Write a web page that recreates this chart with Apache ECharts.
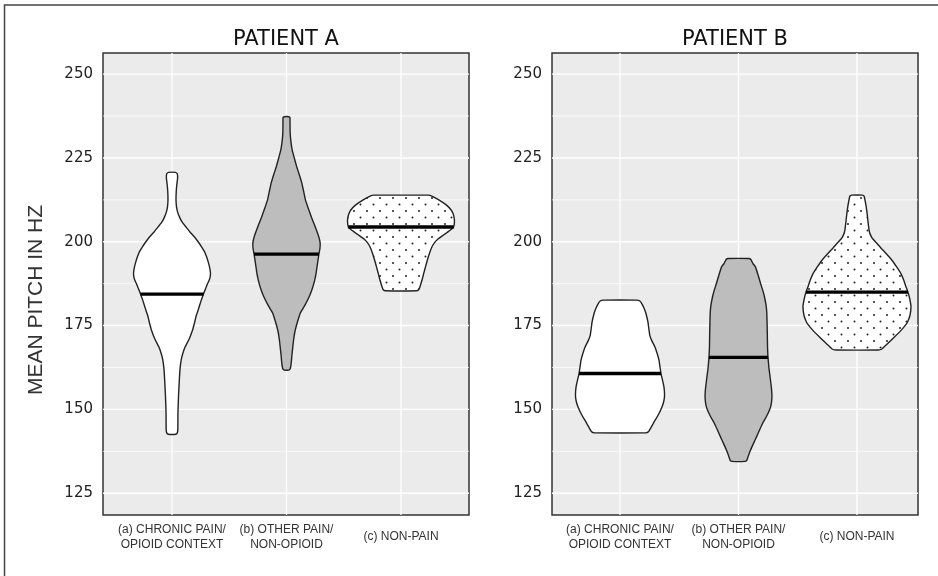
<!DOCTYPE html>
<html><head><meta charset="utf-8">
<script src="https://cdn.jsdelivr.net/npm/echarts@6/dist/echarts.min.js"></script>
<style>html,body{margin:0;padding:0;background:#fff}#chart{width:938px;height:576px}</style>
</head><body><div id="chart"></div>
<script>
// ---- data ----
const categories = ['(a) CHRONIC PAIN/\nOPIOID CONTEXT', '(b) OTHER PAIN/\nNON-OPIOID', '(c) NON-PAIN'];
const panelTitles = ['PATIENT A', 'PATIENT B'];
const yAxisTitle = 'MEAN PITCH IN HZ';
const yTicks = [125, 150, 175, 200, 225, 250];
const yMinor = [137.5, 162.5, 187.5, 212.5, 237.5];
const medianA = [184.4, 196.3, 204.4];
const medianB = [160.7, 165.5, 185.0];
// violin profiles: [pitch, half-width in category units], top to bottom
const violinA_a = [[220.7,0.030],[220.3,0.046],[219,0.049],[217,0.042],[215,0.037],[212.5,0.035],[210.5,0.039],[209,0.048],[207.5,0.064],[206,0.086],[204.5,0.120],[203,0.155],[201.5,0.195],[200,0.228],[198.5,0.258],[197,0.285],[195.5,0.302],[194,0.316],[192.4,0.328],[190.6,0.336],[189,0.330],[187.6,0.312],[186,0.293],[184.4,0.275],[182,0.250],[180,0.232],[178,0.212],[176,0.198],[173.6,0.179],[171,0.150],[168.6,0.114],[166.5,0.093],[164.7,0.080],[162,0.070],[158.7,0.064],[154,0.057],[149,0.052],[144,0.051],[143,0.046],[142.6,0.032]];
const violinA_b = [[237.3,0.020],[237,0.030],[235,0.031],[232.4,0.032],[230,0.038],[227.3,0.050],[225,0.068],[222.3,0.090],[220,0.112],[217.5,0.134],[215,0.150],[212.4,0.166],[210,0.190],[207.3,0.218],[205,0.245],[202.6,0.271],[201,0.286],[199.6,0.294],[198,0.292],[196.3,0.283],[194,0.273],[192.4,0.266],[190.5,0.258],[188.5,0.246],[186,0.225],[183.5,0.197],[181,0.160],[178.7,0.120],[176,0.095],[173.6,0.076],[171,0.063],[168.6,0.055],[166,0.047],[163.8,0.041],[162.3,0.034],[161.7,0.020]];
const violinA_c = [[213.9,0.240],[213.7,0.265],[212.5,0.330],[211,0.395],[209.4,0.440],[208.3,0.456],[207,0.465],[205.9,0.467],[204.4,0.460],[203.5,0.432],[202.7,0.400],[202,0.371],[200.8,0.323],[199.6,0.290],[198.5,0.271],[196.6,0.249],[194.5,0.230],[192.5,0.214],[190.5,0.198],[188.5,0.183],[186.5,0.165],[185.7,0.155],[185.4,0.135]];
const violinB_a = [[182.6,0.140],[182.4,0.165],[181.5,0.185],[180,0.205],[178.6,0.219],[176,0.236],[173.6,0.245],[172,0.252],[170.5,0.268],[168.6,0.295],[166.5,0.315],[164.7,0.329],[162.5,0.338],[160.7,0.346],[158.5,0.360],[156.7,0.371],[154.2,0.376],[152.5,0.370],[150.7,0.354],[148.7,0.328],[146.7,0.295],[144.5,0.260],[143.3,0.240],[143,0.215]];
const violinB_b = [[195.0,0.085],[194.8,0.103],[193.5,0.122],[192.5,0.143],[190,0.166],[187.6,0.186],[185.5,0.205],[183.6,0.219],[181,0.233],[178.6,0.239],[173,0.243],[168.6,0.245],[165.5,0.249],[162,0.258],[158.7,0.270],[156,0.279],[153.7,0.282],[151.5,0.276],[149.8,0.262],[147.8,0.235],[145.8,0.203],[143.8,0.177],[141.8,0.152],[139.8,0.126],[137.8,0.101],[136,0.082],[134.8,0.070],[134.5,0.055]];
const violinB_c = [[213.9,0.045],[213.6,0.060],[212,0.070],[210.4,0.078],[208,0.087],[206,0.093],[203.5,0.102],[202.2,0.112],[201,0.130],[199.5,0.169],[198,0.205],[197,0.232],[194.5,0.295],[192.5,0.335],[190.5,0.371],[188.5,0.395],[186.5,0.414],[185,0.430],[183,0.445],[180.6,0.456],[178,0.447],[176.5,0.432],[175.6,0.419],[173.5,0.370],[171.6,0.316],[169.5,0.255],[168,0.210],[167.7,0.180]];

// ---- pattern for non-pain ----
function dotPattern() {
  const c = document.createElement('canvas');
  c.width = 13; c.height = 13;
  const g = c.getContext('2d');
  g.fillStyle = '#ffffff'; g.fillRect(0, 0, 13, 13);
  g.fillStyle = '#222222';
  g.beginPath(); g.arc(3, 3, 1.0, 0, Math.PI * 2); g.fill();
  g.beginPath(); g.arc(9.5, 9.5, 1.0, 0, Math.PI * 2); g.fill();
  return { image: c, repeat: 'repeat' };
}
const fills = ['#ffffff', '#bdbdbd', dotPattern()];

function interp(prof, v) {
  for (let k = 0; k < prof.length - 1; k++) {
    const a = prof[k], b = prof[k + 1];
    if (v <= a[0] && v >= b[0]) {
      const t = (a[0] - v) / (a[0] - b[0]);
      return a[1] + t * (b[1] - a[1]);
    }
  }
  return prof[0][1];
}

function violinSeries(g, profiles, medians) {
  return {
    type: 'custom', xAxisIndex: g, yAxisIndex: g, z: 5, silent: true,
    data: medians.map((m, i) => [i, m]),
    encode: { x: 0, y: 1 },
    renderItem: function (params, api) {
      const i = params.dataIndex;
      const cx = api.value(0);
      const prof = profiles[i];
      const right = prof.map(p => api.coord([cx + p[1], p[0]]));
      const left = prof.slice().reverse().map(p => api.coord([cx - p[1], p[0]]));
      const m = api.value(1);
      const hw = interp(prof, m);
      const p1 = api.coord([cx - hw, m]), p2 = api.coord([cx + hw, m]);
      return {
        type: 'group', children: [
          { type: 'polygon', shape: { points: right.concat(left), smooth: 0.12 },
            style: { fill: fills[i], stroke: '#222', lineWidth: 1.4 } },
          { type: 'line', shape: { x1: p1[0], y1: p1[1], x2: p2[0], y2: p2[1] },
            style: { stroke: '#000', lineWidth: 3.3 } }
        ]
      };
    }
  };
}

function hGridSeries(g, vals, w) {
  return {
    type: 'custom', xAxisIndex: g, yAxisIndex: g, z: 1, silent: true,
    data: vals.map(v => [0, v]), encode: { x: 0, y: 1 },
    renderItem: function (params, api) {
      const cs = params.coordSys;
      const y = api.coord([0, api.value(1)])[1];
      return { type: 'line', shape: { x1: cs.x, y1: y, x2: cs.x + cs.width, y2: y },
        style: { stroke: '#ffffff', lineWidth: w } };
    }
  };
}
function vGridSeries(g) {
  return {
    type: 'custom', xAxisIndex: g, yAxisIndex: g, z: 1, silent: true,
    data: categories.map((c, i) => [i, 200]), encode: { x: 0, y: 1 },
    renderItem: function (params, api) {
      const cs = params.coordSys;
      const x = api.coord([api.value(0), 200])[0];
      return { type: 'line', shape: { x1: x, y1: cs.y, x2: x, y2: cs.y + cs.height },
        style: { stroke: '#ffffff', lineWidth: 1.3 } };
    }
  };
}

const gridBase = { top: 53, height: 462, width: 366, show: true, backgroundColor: '#ebebeb', borderColor: '#333', borderWidth: 1.5 };
function yAx(g) {
  return {
    type: 'value', gridIndex: g, min: 118.5, max: 256.3,
    splitLine: { show: false }, axisLine: { show: false }, axisTick: { show: false },
    axisLabel: { customValues: yTicks, margin: 10, fontFamily: 'DejaVu Sans', fontSize: 15, color: '#222' }
  };
}
function xAx(g, mn, mx) {
  return {
    type: 'value', gridIndex: g, min: mn, max: mx,
    splitLine: { show: false }, axisLine: { show: false }, axisTick: { show: false },
    axisLabel: { customValues: [0, 1, 2], formatter: v => categories[Math.round(v)],
      margin: 22, verticalAlign: 'middle', fontFamily: 'Liberation Sans', fontSize: 12, lineHeight: 15, color: '#333' }
  };
}

const chart = echarts.init(document.getElementById('chart'), null, { renderer: 'canvas' });
chart.setOption({
  animation: false,
  backgroundColor: '#ffffff',
  grid: [Object.assign({ left: 103 }, gridBase), Object.assign({ left: 552 }, gridBase)],
  xAxis: [xAx(0, -0.6026, 2.594), xAx(1, -0.574, 2.515)],
  yAxis: [yAx(0), yAx(1)],
  graphic: [
    { type: 'rect', shape: { x: 4.5, y: 5, width: 960, height: 600 }, style: { fill: 'none', stroke: '#444', lineWidth: 1.5 }, z: 100 },
    { type: 'text', x: 286, y: 39.5, style: { text: panelTitles[0], align: 'center', verticalAlign: 'middle', font: '21px "DejaVu Sans"', fill: '#111' } },
    { type: 'text', x: 735, y: 39.5, style: { text: panelTitles[1], align: 'center', verticalAlign: 'middle', font: '21px "DejaVu Sans"', fill: '#111' } },
    { type: 'text', x: 36, y: 300, rotation: Math.PI / 2, style: { text: yAxisTitle, align: 'center', verticalAlign: 'middle', font: '21px "Liberation Sans"', fill: '#333' } }
  ],
  series: [
    hGridSeries(0, yMinor, 0.7), hGridSeries(0, yTicks, 1.4), vGridSeries(0),
    hGridSeries(1, yMinor, 0.7), hGridSeries(1, yTicks, 1.4), vGridSeries(1),
    violinSeries(0, [violinA_a, violinA_b, violinA_c], medianA),
    violinSeries(1, [violinB_a, violinB_b, violinB_c], medianB)
  ]
});
</script></body></html>
